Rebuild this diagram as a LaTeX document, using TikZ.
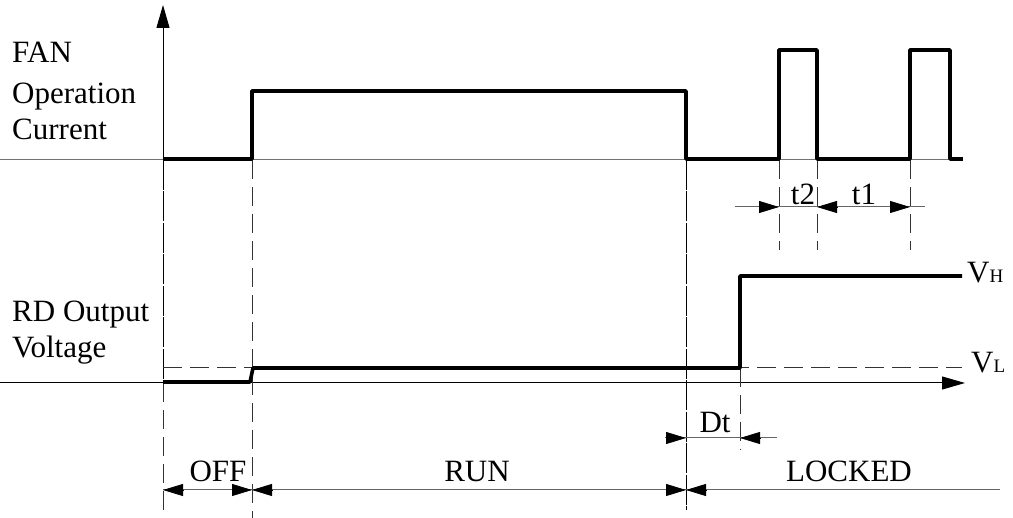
\documentclass[tikz,border=0pt]{standalone}
\usepackage{fontspec}
\setmainfont{Liberation Serif}
\usetikzlibrary{arrows.meta}
\begin{document}
\begin{tikzpicture}[x=1pt,y=-1pt,
  wave/.style={line width=3.6pt, line join=round},
  thinline/.style={line width=1pt},
  guide/.style={line width=0.9pt, dash pattern=on 19pt off 8pt, black!80},
  longdash/.style={line width=1pt, dash pattern=on 30pt off 1.5pt},
  dimline/.style={line width=1pt, black!60},
  dimtip/.style={-{Triangle[length=20pt,width=12pt]}, line width=0.8pt},
  axtip/.style={-{Triangle[length=23pt,width=13pt]}, line width=1pt},
  lbl/.style={font=\fontsize{31}{31}\selectfont, inner sep=0pt, anchor=base west},
  clbl/.style={font=\fontsize{31}{31}\selectfont, inner sep=0pt, anchor=base},
]
\useasboundingbox (0,0) rectangle (1013,518);
% named coordinates
\coordinate (o1) at (163,160);
\coordinate (top) at (163,5);
\coordinate (b0) at (0,160);
\coordinate (b1) at (962,160);
\coordinate (a0) at (0,383);
\coordinate (a1) at (965,383);
% axes
\draw[thinline, black!55] (b0) -- (b1);
\draw[axtip] (o1) -- (top);
\draw[axtip] (a0) -- (a1);
% guide lines
\draw[longdash] (163,160) -- (163,383);
\draw[guide] (163,383) -- (163,518);
\draw[guide] (252,160) -- (252,518);
\draw[longdash] (686,160) -- (686,510);
\draw[guide] (740,368) -- (740,450);
\draw[guide] (779,160) -- (779,250);
\draw[guide] (817,160) -- (817,250);
\draw[guide] (910,160) -- (910,250);
\draw[guide] (163,367) -- (962,367);
% waveforms
\draw[wave] (163,159) -- (252,159) -- (252,91) -- (686,91) -- (686,159) -- (779,159)
  -- (779,50) -- (817,50) -- (817,159) -- (910,159) -- (910,50) -- (950,50) -- (950,159) -- (963,159);
\draw[wave] (163,382) -- (250,382) -- (253,368) -- (740,368) -- (740,276) -- (962,276);
% dimension t1/t2
\draw[dimline] (735,207) -- (925,207);
\draw[dimtip] (759,207) -- (779,207);
\draw[dimtip] (837,207) -- (817,207);
\draw[dimtip] (890,207) -- (910,207);
\node[clbl] (t2) at (803,205) {t2};
\node[clbl] (t1) at (864,205) {t1};
% dimension Dt
\draw[dimline] (665,438) -- (777,438);
\draw[dimtip] (666,438) -- (686,438);
\draw[dimtip] (760,438) -- (740,438);
\node[clbl] (dt) at (715,433) {Dt};
% bottom states
\draw[dimline] (163,490) -- (1000,490);
\draw[dimtip] (183,490) -- (163,490);
\draw[dimtip] (232,490) -- (252,490);
\draw[dimtip] (272,490) -- (252,490);
\draw[dimtip] (666,490) -- (686,490);
\draw[dimtip] (706,490) -- (686,490);
\node[clbl] (off) at (218,482) {OFF};
\node[clbl] (run) at (477,482) {RUN};
\node[clbl] (locked) at (849,482) {LOCKED};
% left labels
\node[lbl] (l1) at (12,63) {FAN};
\node[lbl] (l2) at (12,104) {Operation};
\node[lbl] (l3) at (12,140) {Current};
\node[lbl] (l4) at (12,322) {RD Output};
\node[lbl] (l5) at (12,358) {Voltage};
% VH / VL
\node[lbl] (vh) at (967,283) {V{\fontsize{19}{19}\selectfont H}};
\node[lbl] (vl) at (971,373) {V{\fontsize{19}{19}\selectfont L}};
\end{tikzpicture}
\end{document}
